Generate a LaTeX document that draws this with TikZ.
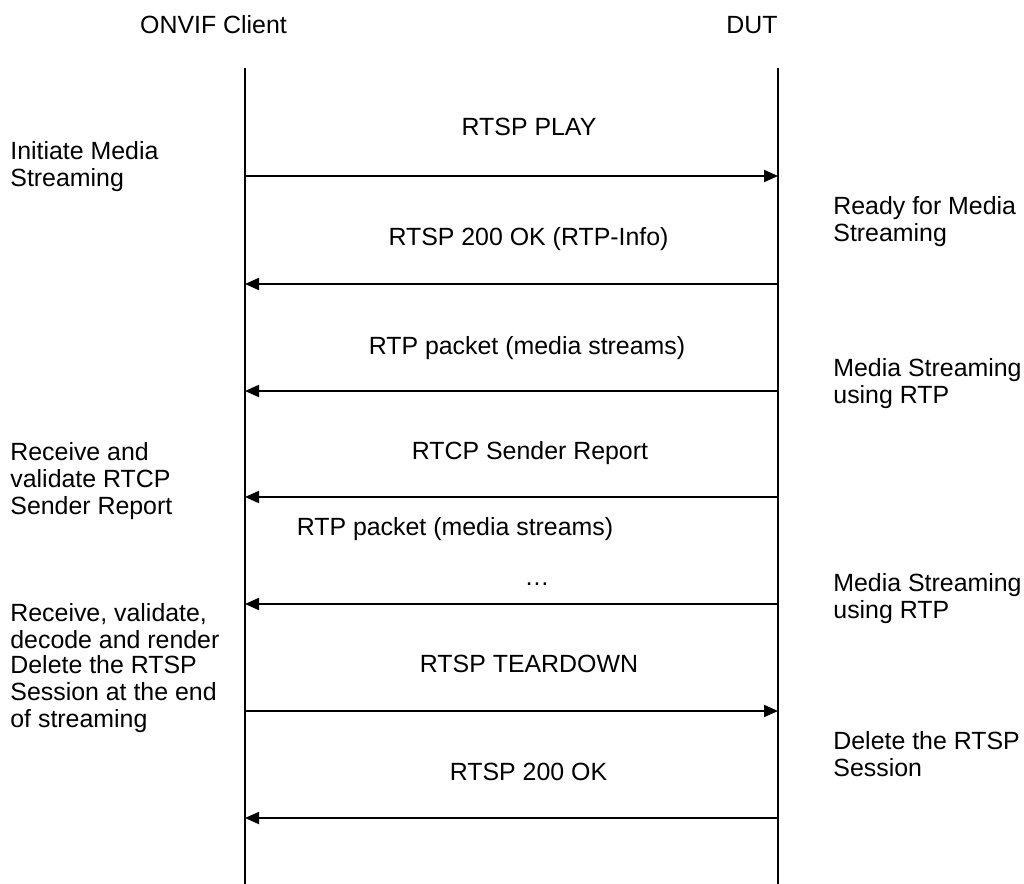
\documentclass[tikz,border=0pt]{standalone}
\usepackage{fontspec}
\setmainfont{Liberation Sans}
\usetikzlibrary{arrows.meta}

\begin{document}
\begin{tikzpicture}[
  x=0.5pt, y=-0.5pt,
  font=\fontsize{12.45}{13.5}\selectfont,
  life/.style={line width=0.75pt},
  msg/.style={-{Triangle[length=7pt,width=6pt]}, line width=1pt},
  lbl/.style={anchor=base, inner sep=0pt},
  note/.style={anchor=north west, align=left, inner sep=0pt}
]
\useasboundingbox (0,0) rectangle (1024,884);

% participants
\node[lbl] (client) at (213.5,33.5) {ONVIF Client};
\node[lbl] (dut) at (752,33.5) {DUT};
\coordinate (cTop) at (245,68);
\coordinate (cBot) at (245,884);
\coordinate (dTop) at (778,68);
\coordinate (dBot) at (778,884);
\draw[life] (cTop) -- (cBot);
\draw[life] (dTop) -- (dBot);

% message ends
\coordinate (c1) at (245,176); \coordinate (d1) at (778,176);
\coordinate (c2) at (245,284); \coordinate (d2) at (778,284);
\coordinate (c3) at (245,391); \coordinate (d3) at (778,391);
\coordinate (c4) at (245,497); \coordinate (d4) at (778,497);
\coordinate (c5) at (245,604); \coordinate (d5) at (778,604);
\coordinate (c6) at (245,711); \coordinate (d6) at (778,711);
\coordinate (c7) at (245,818); \coordinate (d7) at (778,818);

% messages
\node[lbl] (play) at (529,135.5) {RTSP PLAY};
\draw[msg] (c1) -- (d1);
\node[lbl] (playok) at (528.5,245.5) {RTSP 200 OK (RTP-Info)};
\draw[msg] (d2) -- (c2);
\node[lbl] (rtp1) at (527,354.5) {RTP packet (media streams)};
\draw[msg] (d3) -- (c3);
\node[lbl] (rtcp) at (530,459.5) {RTCP Sender Report};
\draw[msg] (d4) -- (c4);
\node[lbl] (rtp2) at (455,535.5) {RTP packet (media streams)};
\node[lbl] (dots) at (537,585) {\dots};
\draw[msg] (d5) -- (c5);
\node[lbl] (teardown) at (529,672.5) {RTSP TEARDOWN};
\draw[msg] (c6) -- (d6);
\node[lbl] (tdok) at (528.5,780.5) {RTSP 200 OK};
\draw[msg] (d7) -- (c7);

% client notes
\node[note] (n1) at (10,141) {Initiate Media\\Streaming};
\node[note] (n2) at (10,442) {Receive and\\validate RTCP\\Sender Report};
\node[note] (n3) at (10,603) {Receive, validate,\\decode and render};
\node[note] (n4) at (10,655) {Delete the RTSP\\Session at the end\\of streaming};

% DUT notes
\node[note] (m1) at (833,196) {Ready for Media\\Streaming};
\node[note] (m2) at (833,358) {Media Streaming\\using RTP};
\node[note] (m3) at (833,573) {Media Streaming\\using RTP};
\node[note] (m4) at (833,731) {Delete the RTSP\\Session};
\end{tikzpicture}
\end{document}
